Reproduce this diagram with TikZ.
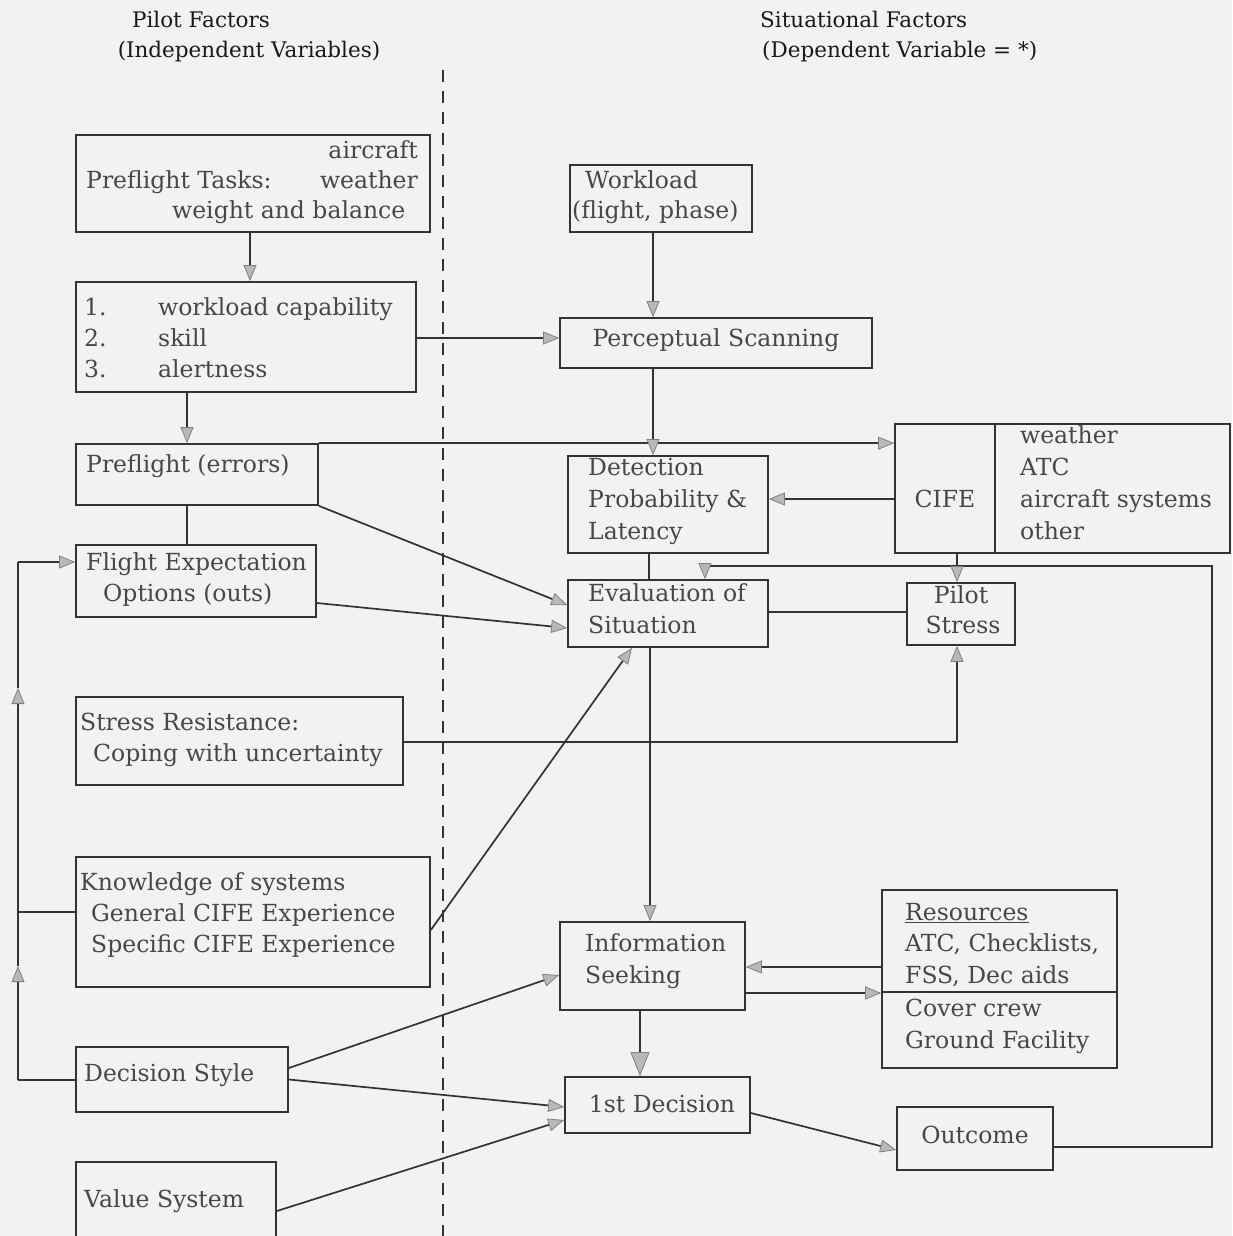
\documentclass[tikz,border=0pt]{standalone}
\usepackage{fontspec}
\setmainfont{DejaVu Serif}
\usetikzlibrary{arrows.meta,fit}
\definecolor{ink}{gray}{0.2}
\definecolor{txt}{gray}{0.28}
\definecolor{paper}{gray}{0.95}
\begin{document}
\begin{tikzpicture}[x=1pt,y=-1pt,
  box/.style={draw=ink,line width=1.7pt,inner sep=0pt},
  ln/.style={draw=ink,line width=1.7pt},
  arr/.style={ln,-{Triangle[length=16pt,width=13pt,color=black!50,fill=black!28,line width=0.8pt]}},
  bigarr/.style={ln,-{Triangle[length=24pt,width=19pt,color=black!50,fill=black!28,line width=0.8pt]}},
  t/.style={anchor=base west,inner sep=0pt,text=txt,font=\fontsize{23.5}{28}\selectfont},
  te/.style={t,anchor=base east},
  tc/.style={t,anchor=base},
  hd/.style={anchor=base,inner sep=0pt,text=black!90,font=\fontsize{21.5}{25}\selectfont}]
\fill[paper] (0,0) rectangle (1232,1236);
\useasboundingbox (0,0) rectangle (1232,1236);

% headers
\node[hd] (h1) at (201,28) {Pilot Factors};
\node[hd] (h2) at (249,58) {(Independent Variables)};
\node[hd,anchor=base west] (h3) at (760,28) {Situational Factors};
\node[hd,anchor=base west] (h4) at (762,58) {(Dependent Variable = *)};

% divider
\coordinate (D1) at (443,70);
\coordinate (D2) at (443,1236);
\draw[ln,dash pattern=on 12pt off 9pt] (D1) -- (D2);

% boxes
\node[box,fit={(76,135)(430,232)}] (ptasks) {};
\node[box,fit={(570,165)(752,232)}] (wl) {};
\node[box,fit={(76,282)(416,392)}] (skills) {};
\node[box,fit={(560,318)(872,368)}] (scan) {};
\node[box,fit={(76,444)(318,505)}] (perr) {};
\node[box,fit={(895,424)(1230,553)}] (cife) {};
\node[box,fit={(568,456)(768,553)}] (detect) {};
\node[box,fit={(76,545)(316,617)}] (flexp) {};
\node[box,fit={(568,580)(768,647)}] (evalb) {};
\node[box,fit={(907,583)(1015,645)}] (stress) {};
\node[box,fit={(76,697)(403,785)}] (stres) {};
\node[box,fit={(76,857)(430,987)}] (know) {};
\node[box,fit={(560,922)(745,1010)}] (info) {};
\node[box,fit={(882,890)(1117,1068)}] (res) {};
\node[box,fit={(76,1047)(288,1112)}] (dstyle) {};
\node[box,fit={(565,1077)(750,1133)}] (dec1) {};
\node[box,fit={(897,1107)(1053,1170)}] (outc) {};
\node[box,fit={(76,1162)(276,1242)}] (value) {};

\draw[ln] ([xshift=101pt]cife.north west) -- ([xshift=101pt]cife.south west);
\draw[ln] ([yshift=-103pt]res.north west) -- ([yshift=-103pt]res.north east);

% texts
\node[te] (a1) at (418,158) {aircraft};
\node[t]  (a2) at (86,188) {Preflight Tasks:};
\node[te] (a3) at (418,188) {weather};
\node[t]  (a4) at (172,218) {weight and balance};
\node[t] (b1) at (585,188) {Workload};
\node[t] (b2) at (572,218) {(flight, phase)};
\node[t] (c1) at (84,315) {1.};
\node[t] (c2) at (158,315) {workload capability};
\node[t] (c3) at (84,346) {2.};
\node[t] (c4) at (158,346) {skill};
\node[t] (c5) at (84,377) {3.};
\node[t] (c6) at (158,377) {alertness};
\node[tc] (d1) at (716,346) {Perceptual Scanning};
\node[t] (e1) at (86,472) {Preflight (errors)};
\node[tc] (f1) at (945,507) {CIFE};
\node[t] (f2) at (1020,443) {weather};
\node[t] (f3) at (1020,475) {ATC};
\node[t] (f4) at (1020,507) {aircraft systems};
\node[t] (f5) at (1020,539) {other};
\node[t] (g1) at (588,475) {Detection};
\node[t] (g2) at (588,507) {Probability \&};
\node[t] (g3) at (588,539) {Latency};
\node[t] (h5) at (86,570) {Flight Expectation};
\node[t] (h6) at (103,601) {Options (outs)};
\node[t] (i1) at (588,601) {Evaluation of};
\node[t] (i2) at (588,633) {Situation};
\node[tc] (j1) at (961,603) {Pilot};
\node[tc] (j2) at (963,633) {Stress};
\node[t] (k1) at (80,730) {Stress Resistance:};
\node[t] (k2) at (93,761) {Coping with uncertainty};
\node[t] (l1) at (80,890) {Knowledge of systems};
\node[t] (l2) at (91,921) {General CIFE Experience};
\node[t] (l3) at (91,952) {Specific CIFE Experience};
\node[t] (m1) at (585,951) {Information};
\node[t] (m2) at (585,983) {Seeking};
\node[t] (n1) at (905,920) {\underline{Resources}};
\node[t] (n2) at (905,951) {ATC, Checklists,};
\node[t] (n3) at (905,983) {FSS, Dec aids};
\node[t] (n4) at (905,1016) {Cover crew};
\node[t] (n5) at (905,1048) {Ground Facility};
\node[tc] (o1) at (662,1112) {1st Decision};
\node[t] (p1) at (84,1081) {Decision Style};
\node[t] (q1) at (84,1207) {Value System};
\node[tc] (r1) at (975,1143) {Outcome};

% helper coordinates
\coordinate (x250) at (250,0);
\coordinate (x653) at (653,0);
\coordinate (x187) at (187,0);
\coordinate (x649) at (649,0);
\coordinate (x957) at (957,0);
\coordinate (x650) at (650,0);
\coordinate (x640) at (640,0);
\coordinate (x705) at (705,0);
\coordinate (y338) at (0,338);
\coordinate (y499) at (0,499);
\coordinate (y612) at (0,612);
\coordinate (y742) at (0,742);
\coordinate (y967) at (0,967);
\coordinate (y993) at (0,993);
\coordinate (L1) at (18,1080);
\coordinate (La) at (18,966);
\coordinate (L2) at (18,912);
\coordinate (Lb) at (18,688);
\coordinate (L3) at (18,562);
\coordinate (R1) at (1212,1147);
\coordinate (R2) at (1212,566);

% connectors
\draw[arr] (ptasks.south -| x250) -- (skills.north -| x250);
\draw[arr] (wl.south -| x653) -- (scan.north -| x653);
\draw[arr] (skills.east |- y338) -- (scan.west |- y338);
\draw[arr] (skills.south -| x187) -- (perr.north -| x187);
\draw[arr] (perr.north east) -- (perr.north east -| cife.west);
\draw[arr] (scan.south -| x653) -- (detect.north -| x653);
\draw[arr] (cife.west |- y499) -- (detect.east |- y499);
\draw[ln] (detect.south -| x649) -- (evalb.north -| x649);
\draw[ln] (evalb.east |- y612) -- (stress.west |- y612);
\draw[ln] (perr.south -| x187) -- (flexp.north -| x187);
\draw[arr] (perr.south east) -- ([yshift=8.5pt]evalb.west);
\draw[arr] ([yshift=-22pt]flexp.east) -- ([yshift=-14.5pt]evalb.west);
\draw[ln] (dstyle.west |- L1) -- (L1);
\draw[arr] (L1) -- (La);
\draw[ln] (La) -- (L2);
\draw[ln] (know.west |- L2) -- (L2);
\draw[arr] (L2) -- (Lb);
\draw[ln] (Lb) -- (L3);
\draw[arr] (L3) -- (flexp.west |- L3);
\draw[arr] (stres.east |- y742) -| (x957 |- stress.south);
\draw[arr] ([yshift=-8pt]know.east) -- ([xshift=-36pt]evalb.south);
\draw[arr] (evalb.south -| x650) -- (info.north -| x650);
\draw[arr] (res.west |- y967) -- (info.east |- y967);
\draw[arr] (info.east |- y993) -- (res.west |- y993);
\draw[bigarr] (info.south -| x640) -- (dec1.north -| x640);
\draw[arr] ([yshift=11.5pt]dstyle.east) -- ([yshift=-9pt]info.west);
\draw[arr] (dstyle.east) -- ([yshift=-2pt]dec1.west);
\draw[arr] ([yshift=-9pt]value.east) -- ([yshift=-15pt]dec1.west);
\draw[arr] ([yshift=-8pt]dec1.east) -- ([yshift=-11.5pt]outc.west);
\draw[ln] (outc.east |- R1) -- (R1) -- (R2) -- (x705 |- R2);
\draw[arr] (x705 |- R2) -- (evalb.north -| x705);
\draw[arr] (cife.south -| x957) -- (stress.north -| x957);
\end{tikzpicture}
\end{document}
